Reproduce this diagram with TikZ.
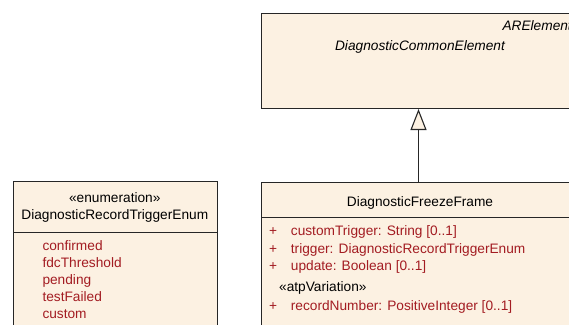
\documentclass[tikz,border=0pt]{standalone}
\usepackage{fontspec}
\setmainfont{Liberation Sans}
\usepackage{xcolor}
\usetikzlibrary{arrows.meta,positioning}

\definecolor{classfill}{RGB}{252,241,226}
\definecolor{attrred}{RGB}{163,28,34}
\definecolor{umlline}{RGB}{38,38,38}

\tikzset{
  classbox/.style={draw=umlline,fill=classfill,line width=1pt,anchor=north west,inner sep=0pt},
  attr/.style={anchor=base west,inner sep=0pt,text=attrred},
  generalization/.style={draw=umlline,line width=1.1pt,-{Triangle[length=21pt,width=16pt,fill=classfill]}}
}

\begin{document}
\begin{tikzpicture}[x=1pt,y=-1pt,font=\fontsize{13.7}{16}\selectfont]
    \useasboundingbox (0,0) rectangle (569,324);
    \clip (0,0) rectangle (569,324);

    \node[classbox,minimum width=314pt,minimum height=95pt] (common) at (261,13) {};
    \node[anchor=base east,inner sep=0pt,font=\fontsize{13.7}{16}\selectfont\itshape] (commonparent) at (572,30.7) {ARElement};
    \node[anchor=base,inner sep=0pt,font=\fontsize{13.7}{16}\selectfont\itshape] (commonname) at (420,50.7) {DiagnosticCommonElement};

    \node[classbox,minimum width=203.7pt,minimum height=160pt] (enumbox) at (13,181) {};
    \draw[umlline,line width=1pt] ([yshift=-51pt]enumbox.north west) -- ([yshift=-51pt]enumbox.north east);
    \node[anchor=base,inner sep=0pt] (enumstereo) at (114.8,202) {«enumeration»};
    \node[anchor=base,inner sep=0pt] (enumname) at (114.8,219.3) {DiagnosticRecordTriggerEnum};
    \foreach \lit [count=\i] in {confirmed,fdcThreshold,pending,testFailed,custom}
      \node[attr] (lit\i) at (42.3,{232.8+17.2*\i}) {\lit};

    \node[classbox,minimum width=314pt,minimum height=160pt] (frame) at (261,182) {};
    \draw[umlline,line width=1pt] ([yshift=-35pt]frame.north west) -- ([yshift=-35pt]frame.north east);
    \node[anchor=base,inner sep=0pt] (framename) at (420,206) {DiagnosticFreezeFrame};
    \node[attr] (plus1) at (269,235.3) {+}; \node[attr] (attr1) at (290.7,235.3) {customTrigger: String [0..1]};
    \node[attr] (plus2) at (269,253.3) {+}; \node[attr] (attr2) at (290.7,253.3) {trigger: DiagnosticRecordTriggerEnum};
    \node[attr] (plus3) at (269,270.7) {+}; \node[attr] (attr3) at (290.7,270.7) {update: Boolean [0..1]};
    \node[anchor=base west,inner sep=0pt] (atpstereo) at (279,291.7) {«atpVariation»};
    \node[attr] (plus4) at (269,310) {+}; \node[attr] (attr4) at (290.7,310) {recordNumber: PositiveInteger [0..1]};

    \draw[generalization] (frame.north) -- (common.south);
  \end{tikzpicture}
\end{document}
